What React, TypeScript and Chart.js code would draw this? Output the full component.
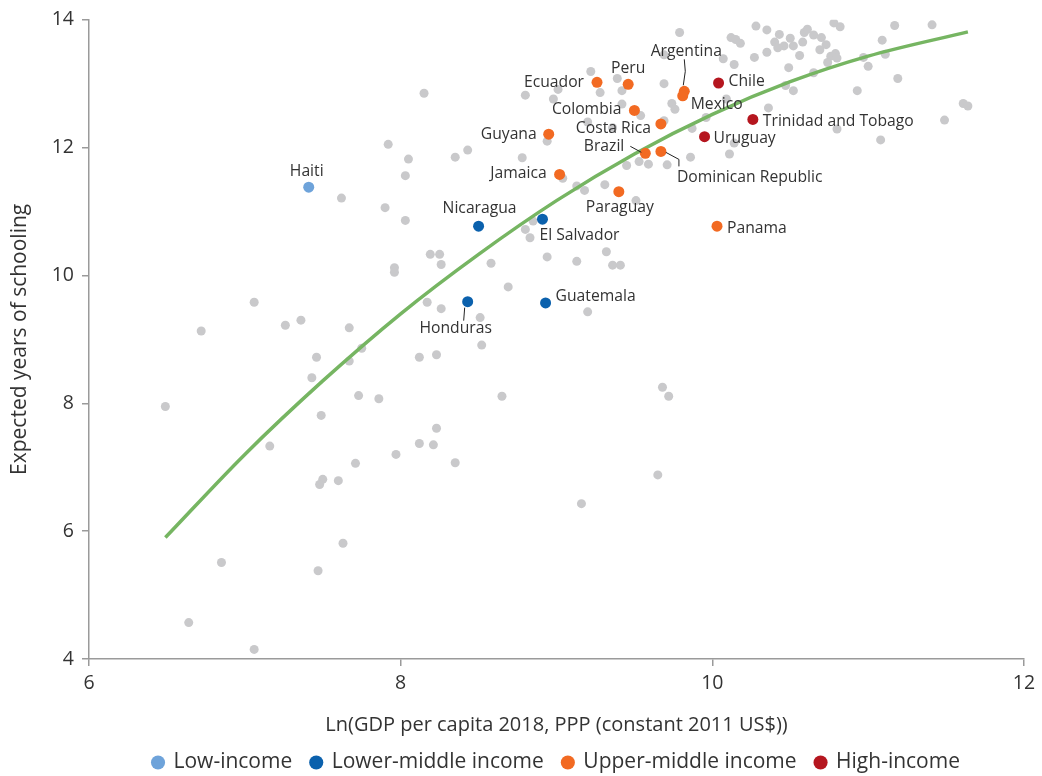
import React, { useEffect, useRef } from "react";
import { Chart, registerables } from "chart.js";

Chart.register(...registerables);

const FONT = "'Open Sans', 'Noto Sans', sans-serif";

// Other countries (gray)
const otherX = [7.92, 8.05, 8.03, 7.62, 7.90, 8.03, 9.79, 9.69, 9.22, 9.39, 9.69, 9.01, 9.28, 9.42, 8.15, 8.80, 8.98, 9.74, 9.76, 9.42, 9.54, 9.20, 9.36, 9.69, 9.87, 8.94, 8.35, 8.43, 8.78, 9.86, 9.45, 9.53, 9.59, 9.71, 9.04, 9.13, 9.18, 9.31, 9.51, 8.85, 8.80, 10.28, 10.35, 10.78, 10.82, 11.17, 11.41, 10.12, 10.15, 10.18, 10.43, 10.40, 10.46, 10.42, 10.50, 10.52, 10.58, 10.59, 10.61, 10.65, 10.70, 10.73, 10.69, 10.76, 10.79, 10.80, 10.74, 11.09, 11.11, 10.97, 11.00, 10.56, 10.49, 10.35, 10.27, 10.07, 10.14, 10.65, 11.19, 10.47, 10.52, 10.93, 10.09, 10.36, 11.61, 11.64, 11.49, 9.96, 10.80, 11.08, 10.14, 10.11, 7.96, 7.96, 7.06, 6.72, 7.26, 7.36, 7.67, 7.75, 7.46, 7.67, 7.43, 7.73, 7.86, 7.49, 6.49, 8.83, 8.19, 8.25, 8.26, 8.58, 8.94, 9.13, 9.32, 9.36, 9.41, 8.69, 8.17, 8.26, 8.51, 9.20, 8.52, 8.12, 8.23, 8.65, 9.68, 9.72, 8.23, 7.16, 7.97, 7.71, 7.50, 7.48, 7.60, 7.63, 7.47, 6.85, 6.64, 7.06, 8.12, 8.21, 8.35, 9.65, 9.16];
const otherY = [12.05, 11.82, 11.56, 11.21, 11.06, 10.86, 13.80, 13.45, 13.19, 13.08, 13.00, 12.91, 12.86, 12.89, 12.85, 12.82, 12.76, 12.69, 12.60, 12.68, 12.50, 12.40, 12.31, 12.42, 12.30, 12.10, 11.85, 11.96, 11.84, 11.85, 11.72, 11.78, 11.74, 11.73, 11.52, 11.40, 11.33, 11.42, 11.17, 10.85, 10.72, 13.90, 13.84, 13.95, 13.89, 13.91, 13.92, 13.72, 13.69, 13.63, 13.77, 13.65, 13.59, 13.56, 13.71, 13.59, 13.65, 13.80, 13.85, 13.76, 13.72, 13.61, 13.53, 13.43, 13.47, 13.40, 13.33, 13.68, 13.46, 13.41, 13.27, 13.44, 13.25, 13.49, 13.41, 13.39, 13.30, 13.17, 13.08, 12.97, 12.89, 12.89, 12.76, 12.62, 12.69, 12.65, 12.43, 12.47, 12.29, 12.12, 12.07, 11.90, 10.12, 10.05, 9.58, 9.13, 9.22, 9.30, 9.18, 8.86, 8.72, 8.66, 8.40, 8.12, 8.07, 7.81, 7.95, 10.59, 10.33, 10.33, 10.17, 10.19, 10.29, 10.22, 10.37, 10.16, 10.16, 9.82, 9.58, 9.48, 9.34, 9.43, 8.91, 8.72, 8.76, 8.11, 8.25, 8.11, 7.61, 7.33, 7.20, 7.06, 6.81, 6.73, 6.79, 5.81, 5.38, 5.51, 4.57, 4.15, 7.37, 7.35, 7.07, 6.88, 6.43];

// Income groups (Latin America & Caribbean)
const lowNames = ["Haiti"];
const lowX = [7.41];
const lowY = [11.38];

const lowerMidNames = ["Nicaragua", "El Salvador", "Honduras", "Guatemala"];
const lowerMidX = [8.50, 8.91, 8.43, 8.93];
const lowerMidY = [10.77, 10.88, 9.59, 9.57];

const upperMidNames = ["Ecuador", "Peru", "Argentina", "Mexico", "Colombia", "Costa Rica", "Guyana", "Brazil", "Dominican Republic", "Jamaica", "Paraguay", "Panama"];
const upperMidX = [9.26, 9.46, 9.82, 9.81, 9.50, 9.67, 8.95, 9.57, 9.67, 9.02, 9.40, 10.03];
const upperMidY = [13.02, 12.99, 12.88, 12.81, 12.58, 12.37, 12.21, 11.91, 11.94, 11.58, 11.31, 10.77];

const highNames = ["Chile", "Uruguay", "Trinidad and Tobago"];
const highX = [10.04, 9.95, 10.26];
const highY = [13.01, 12.17, 12.44];

// Fitted curve
const fitX = [6.49, 7.0, 7.5, 8.0, 8.5, 9.0, 9.5, 10.0, 10.5, 11.0, 11.64];
const fitY = [5.90, 7.20, 8.35, 9.40, 10.33, 11.17, 11.90, 12.52, 13.03, 13.43, 13.81];

const groupLabels = ["Low-income", "Lower-middle income", "Upper-middle income", "High-income"];
const xTicks = [6, 8, 10, 12];
const yTicks = [4, 6, 8, 10, 12, 14];
const xTitle = "Ln(GDP per capita 2018, PPP (constant 2011 US$))";
const yTitle = "Expected years of schooling";

// Label placement (pixel offsets from the point)
type Place = { dx: number; dy: number; align: CanvasTextAlign; leader?: number[][] };
const labelPlacement: Record<string, Place> = {
  Haiti: { dx: -2, dy: -16, align: "center" },
  Nicaragua: { dx: 1, dy: -18, align: "center" },
  "El Salvador": { dx: -3, dy: 16, align: "left" },
  Honduras: { dx: -12, dy: 27, align: "center", leader: [[-3, 6], [-4, 19]] },
  Guatemala: { dx: 10, dy: -6, align: "left" },
  Ecuador: { dx: -13, dy: 0, align: "right" },
  Peru: { dx: 0, dy: -16, align: "center" },
  Argentina: { dx: 2, dy: -40, align: "center", leader: [[0, -32], [1, -20], [-1, -6]] },
  Mexico: { dx: 8, dy: 9, align: "left" },
  Colombia: { dx: -13, dy: -1, align: "right" },
  "Costa Rica": { dx: -10, dy: 5, align: "right" },
  Guyana: { dx: -12, dy: 0, align: "right" },
  Brazil: { dx: -21, dy: -7, align: "right", leader: [[-15, -7], [-4, -1]] },
  "Dominican Republic": { dx: 16, dy: 26, align: "left", leader: [[5, 1], [18, 8], [18, 15]] },
  Jamaica: { dx: -13, dy: -1, align: "right" },
  Paraguay: { dx: 1, dy: 16, align: "center" },
  Panama: { dx: 10, dy: 2, align: "left" },
  Chile: { dx: 10, dy: -1, align: "left" },
  Uruguay: { dx: 9, dy: 2, align: "left" },
  "Trinidad and Tobago": { dx: 10, dy: 2, align: "left" },
};

const COLORS = {
  gray: "#c9c9cb",
  low: "#6ea3da",
  lowerMid: "#0b61ad",
  upperMid: "#f26a22",
  high: "#b5161f",
  fit: "#76b562",
  axis: "#9a9a9a",
  text: "#333333",
};

const toPts = (xs: number[], ys: number[]) => xs.map((x, i) => ({ x, y: ys[i] }));

const labelPlugin = {
  id: "countryLabels",
  afterDatasetsDraw(chart: any) {
    const ctx = chart.ctx;
    ctx.save();
    ctx.font = `15.7px ${FONT}`;
    ctx.fillStyle = COLORS.text;
    ctx.strokeStyle = "#222";
    ctx.lineWidth = 1;
    ctx.textBaseline = "middle";
    chart.data.datasets.forEach((ds: any, di: number) => {
      const names: string[] | undefined = ds.names;
      if (!names) return;
      const meta = chart.getDatasetMeta(di);
      names.forEach((name, i) => {
        const el = meta.data[i];
        const p = labelPlacement[name];
        if (!el || !p) return;
        if (p.leader) {
          ctx.beginPath();
          p.leader.forEach((o, k) => {
            if (k === 0) ctx.moveTo(el.x + o[0], el.y + o[1]);
            else ctx.lineTo(el.x + o[0], el.y + o[1]);
          });
          ctx.stroke();
        }
        ctx.textAlign = p.align;
        ctx.fillText(name, el.x + p.dx, el.y + p.dy);
      });
    });
    ctx.restore();
  },
};

const legendHeightPlugin = {
  id: "legendHeight",
  beforeInit(chart: any) {
    const legend = chart.legend;
    if (!legend) return;
    const orig = legend.fit;
    legend.fit = function () {
      orig.call(this);
      this.height = 43;
    };
  },
};

export default function App() {
  const ref = useRef<HTMLCanvasElement | null>(null);

  useEffect(() => {
    document.body.style.margin = "0";
    if (!ref.current) return;
    const colored = (label: string, names: string[], xs: number[], ys: number[], color: string) => ({
      label,
      names,
      data: toPts(xs, ys),
      backgroundColor: color,
      borderColor: color,
      borderWidth: 0,
      pointRadius: 5.5,
      pointHoverRadius: 5.5,
      pointStyle: "circle",
    });
    const chart = new Chart(ref.current, {
      type: "scatter",
      data: {
        datasets: [
          colored(groupLabels[0], lowNames, lowX, lowY, COLORS.low),
          colored(groupLabels[1], lowerMidNames, lowerMidX, lowerMidY, COLORS.lowerMid),
          colored(groupLabels[2], upperMidNames, upperMidX, upperMidY, COLORS.upperMid),
          colored(groupLabels[3], highNames, highX, highY, COLORS.high),
          {
            label: "Fit",
            data: toPts(fitX, fitY),
            showLine: true,
            borderColor: COLORS.fit,
            backgroundColor: COLORS.fit,
            borderWidth: 3.5,
            pointRadius: 0,
            cubicInterpolationMode: "monotone",
          } as any,
          {
            label: "Other countries",
            data: toPts(otherX, otherY),
            backgroundColor: COLORS.gray,
            borderColor: COLORS.gray,
            borderWidth: 0,
            pointRadius: 4.5,
            pointHoverRadius: 4.5,
          },
        ],
      } as any,
      options: {
        animation: false,
        responsive: false,
        devicePixelRatio: 1,
        layout: { padding: { top: 18, right: 18, left: 0, bottom: 0 } },
        plugins: {
          tooltip: { enabled: false },
          legend: {
            position: "bottom",
            fullSize: false,
            labels: {
              usePointStyle: true,
              pointStyle: "circle",
              boxWidth: 10,
              boxHeight: 10,
              padding: 19,
              color: COLORS.text,
              font: { family: FONT, size: 21 },
              filter: (item: any) => item.datasetIndex < 4,
            },
          },
        },
        scales: {
          x: {
            type: "linear",
            min: xTicks[0],
            max: xTicks[xTicks.length - 1],
            afterBuildTicks: (s: any) => {
              s.ticks = xTicks.map((v) => ({ value: v }));
            },
            afterFit: (s: any) => {
              s.height = 74;
            },
            ticks: { color: COLORS.text, font: { family: FONT, size: 19.5 }, padding: 6 },
            grid: { drawOnChartArea: false, drawTicks: true, tickLength: 7, color: COLORS.axis, lineWidth: 1.5 },
            border: { color: COLORS.axis, width: 1.5 },
            title: {
              display: true,
              text: xTitle,
              color: COLORS.text,
              font: { family: FONT, size: 20 },
              padding: { top: 0, bottom: -4 },
            },
          },
          y: {
            type: "linear",
            min: yTicks[0],
            max: yTicks[yTicks.length - 1],
            afterBuildTicks: (s: any) => {
              s.ticks = yTicks.map((v) => ({ value: v }));
            },
            afterFit: (s: any) => {
              s.width = 89;
            },
            ticks: { color: COLORS.text, font: { family: FONT, size: 19.5 }, padding: 8 },
            grid: { drawOnChartArea: false, drawTicks: true, tickLength: 7, color: COLORS.axis, lineWidth: 1.5 },
            border: { color: COLORS.axis, width: 1.5 },
            title: {
              display: true,
              text: yTitle,
              color: COLORS.text,
              font: { family: FONT, size: 21 },
              padding: { top: 7, bottom: 0 },
            },
          },
        },
      } as any,
      plugins: [labelPlugin, legendHeightPlugin],
    });
    return () => chart.destroy();
  }, []);

  return (
    <div style={{ width: 1042, height: 776 }}>
      <canvas ref={ref} width={1042} height={776} />
    </div>
  );
}
